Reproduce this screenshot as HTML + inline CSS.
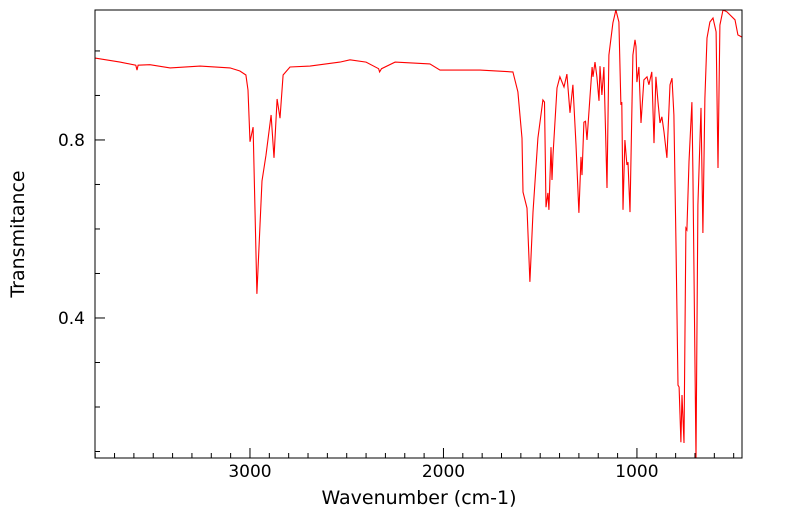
<!DOCTYPE html>
<html><head><meta charset="utf-8"><style>
body{margin:0;background:#fff;}
svg text{font-family:"DejaVu Sans","Liberation Sans",sans-serif;fill:#000;}
</style></head><body>
<svg id="chart" width="799" height="516" xmlns="http://www.w3.org/2000/svg"></svg>
<script>
const wavenumbers=[3801,3672,3590,3584,3578,3517,3413,3258,3103,3052,3021,3010,3000,2984,2964,2948,2938,2917,2891,2876,2860,2845,2829,2793,2690,2535,2483,2400,2335,2330,2320,2250,2070,2018,1811,1646,1641,1615,1594,1589,1568,1553,1537,1512,1486,1478,1470,1460,1455,1444,1439,1434,1413,1398,1377,1362,1346,1331,1315,1300,1289,1284,1274,1266,1258,1243,1232,1227,1217,1207,1196,1191,1181,1171,1155,1145,1124,1109,1093,1083,1078,1072,1062,1052,1046,1036,1021,1010,1005,1000,990,979,964,948,938,923,912,902,891,881,871,860,845,829,819,809,798,788,782,773,767,757,747,742,731,716,711,695,685,669,659,649,638,623,607,591,581,571,555,535,519,493,478,457];
const transmittance=[0.984,0.975,0.968,0.957,0.968,0.969,0.962,0.966,0.962,0.955,0.946,0.912,0.796,0.829,0.454,0.609,0.708,0.766,0.856,0.760,0.892,0.849,0.946,0.964,0.966,0.975,0.980,0.975,0.960,0.953,0.960,0.975,0.971,0.957,0.957,0.953,0.953,0.908,0.804,0.683,0.647,0.481,0.638,0.804,0.890,0.885,0.649,0.681,0.643,0.784,0.710,0.766,0.917,0.942,0.919,0.948,0.861,0.924,0.789,0.636,0.762,0.721,0.840,0.842,0.800,0.894,0.964,0.942,0.975,0.942,0.888,0.966,0.901,0.964,0.692,0.991,1.063,1.092,1.065,0.879,0.885,0.643,0.800,0.744,0.750,0.638,0.991,1.025,1.010,0.930,0.964,0.838,0.935,0.942,0.924,0.953,0.793,0.942,0.885,0.838,0.852,0.818,0.760,0.924,0.939,0.856,0.564,0.249,0.245,0.121,0.227,0.119,0.602,0.598,0.751,0.885,0.728,0.085,0.654,0.872,0.591,0.894,1.029,1.065,1.074,1.043,0.737,1.058,1.092,1.088,1.081,1.070,1.036,1.031];
const yTickLabels=[0.8,0.4];
const xTickLabels=[3000,2000,1000];
const yMinorTicks=[0.1,0.2,0.3,0.4,0.5,0.6,0.7,0.8,0.9,1.0];

const svg=document.getElementById('chart');
const NS='http://www.w3.org/2000/svg';
const L=95,R=742,T=10,B=458;
const xMax=3801,xMin=457,yMin=0.0854,yMax=1.092;
function xs(v){return L+(xMax-v)/(xMax-xMin)*(R-L);}
function ys(v){return B-(v-yMin)/(yMax-yMin)*(B-T);}
function mk(tag,attrs){const e=document.createElementNS(NS,tag);for(const k in attrs)e.setAttribute(k,attrs[k]);svg.appendChild(e);return e;}

const clip=mk('clipPath',{id:'pc'});
const cr=document.createElementNS(NS,'rect');
cr.setAttribute('x',L);cr.setAttribute('y',T);cr.setAttribute('width',R-L);cr.setAttribute('height',B-T);
clip.appendChild(cr);

let d='';
wavenumbers.forEach((w,i)=>{d+=(i?'L':'M')+xs(w).toFixed(1)+' '+ys(transmittance[i]).toFixed(1);});
const line=mk('path',{d:d,fill:'none',stroke:'#ff0000','stroke-width':1.1,'clip-path':'url(#pc)'});



const frame=mk('rect',{x:L,y:T,width:R-L,height:B-T,fill:'none',stroke:'#000','stroke-width':1});



yMinorTicks.forEach(v=>{
  const major=yTickLabels.some(t=>Math.abs(t-v)<1e-6);
  const y=ys(v);
  const t=mk('line',{x1:L,x2:L+(major?10:5),y1:y,y2:y,stroke:'#000','stroke-width':1});
  
  
});
yTickLabels.forEach(v=>{
  const t=mk('text',{x:L-10,y:ys(v)+6,'text-anchor':'end','font-size':17});
  t.textContent=v.toFixed(1);
  
  
});
for(let v=500;v<=3800;v+=100){
  const major=v%1000===0;
  const x=xs(v);
  const t=mk('line',{x1:x,x2:x,y1:B,y2:B-(major?10:5),stroke:'#000','stroke-width':1});
  
  
}
xTickLabels.forEach(v=>{
  const t=mk('text',{x:xs(v),y:477,'text-anchor':'middle','font-size':17});
  t.textContent=v;
  
  
});
const xt=mk('text',{x:419,y:504,'text-anchor':'middle','font-size':19});
xt.textContent='Wavenumber (cm-1)';


const yt=mk('text',{x:0,y:0,'text-anchor':'middle','font-size':19,transform:'translate(24,234) rotate(-90)'});
yt.textContent='Transmitance';


</script>
</body></html>
